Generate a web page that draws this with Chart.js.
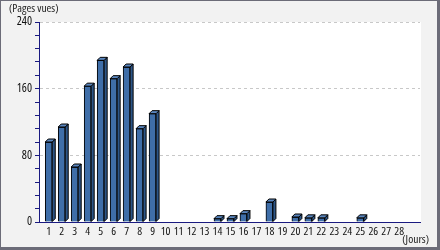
<!DOCTYPE html>
<html lang="fr">
<head>
  <meta charset="UTF-8">
  <title>Pages vues</title>
  <script src="https://cdn.jsdelivr.net/npm/chart.js"></script>
  <style>
    body {
      margin: 0;
      background: #f2f2f2;
    }

    .frame {
      width: 440px;
      height: 250px;
      box-sizing: border-box;
      border-style: solid;
      border-color: #6c6c78;
      border-width: 1px 3px 3px 1px;
      background: #f2f2f2;
    }

    canvas {
      display: block;
    }
  </style>
</head>
<body>

<div class="frame">
  <canvas id="viewsChart" width="436" height="246"></canvas>
</div>

<script>
  const days = [1, 2, 3, 4, 5, 6, 7, 8, 9, 10, 11, 12, 13, 14,
                15, 16, 17, 18, 19, 20, 21, 22, 23, 24, 25, 26, 27, 28];
  const views = [96, 114, 66, 163, 194, 172, 186, 112, 130, 0, 0, 0, 0, 4,
                 4, 10, 0, 24, 0, 6, 5, 5, 0, 0, 5, 0, 0, 0];
  const yMax = 240;
  const yStep = 16;     // minor tick marks
  const yLabelStep = 80;

  // 'condensed' goes in the weight slot so chart.js writes "condensed 11px 'Open Sans'"
  const FAMILY = "'Open Sans', sans-serif";
  const STRETCH = 'condensed';

  // white plot background + 3d sides/tops on the bars + the two axis captions
  const bars3d = {
    id: 'bars3d',
    beforeDraw(chart) {
      const a = chart.chartArea;
      const ctx = chart.ctx;
      ctx.save();
      ctx.fillStyle = '#fff';
      ctx.fillRect(a.left, a.top, a.right - a.left + 1, a.bottom - a.top);
      ctx.restore();
    },
    afterDatasetsDraw(chart) {
      const ctx = chart.ctx;
      const d = 3;
      ctx.save();
      ctx.lineWidth = 1;
      ctx.strokeStyle = '#000';
      chart.getDatasetMeta(0).data.forEach((bar, i) => {
        if (!views[i]) return;
        const p = bar.getProps(['x', 'y', 'base', 'width'], true);
        const l = p.x - p.width / 2, r = p.x + p.width / 2;
        // side
        ctx.beginPath();
        ctx.moveTo(r, p.y);
        ctx.lineTo(r + d, p.y - d);
        ctx.lineTo(r + d, p.base - d);
        ctx.lineTo(r, p.base);
        ctx.closePath();
        ctx.fillStyle = '#2d5688';
        ctx.fill();
        ctx.stroke();
        // top
        ctx.beginPath();
        ctx.moveTo(l, p.y);
        ctx.lineTo(l + d, p.y - d);
        ctx.lineTo(r + d, p.y - d);
        ctx.lineTo(r, p.y);
        ctx.closePath();
        ctx.fillStyle = '#5a86bf';
        ctx.fill();
        ctx.stroke();
      });
      ctx.restore();
    },
    afterDraw(chart) {
      const ctx = chart.ctx;
      ctx.save();
      ctx.fillStyle = '#222';
      ctx.font = STRETCH + ' 11.5px ' + FAMILY;
      ctx.textBaseline = 'alphabetic';
      ctx.textAlign = 'left';
      ctx.fillText('(Pages vues)', 8, 11);
      ctx.textAlign = 'right';
      ctx.fillText('(Jours)', 428, 242);
      ctx.restore();
    }
  };

  new Chart(document.getElementById('viewsChart'), {
    type: 'bar',
    data: {
      datasets: [{
        data: days.map((d, i) => ({ x: d, y: views[i] })),
        backgroundColor: '#3f6ea8',
        borderColor: '#000',
        borderWidth: 1,
        barThickness: 7
      }]
    },
    options: {
      responsive: false,
      animation: false,
      layout: {
        padding: { top: 21, right: 17, bottom: 0, left: 0 }
      },
      plugins: {
        legend: { display: false },
        tooltip: { enabled: false }
      },
      scales: {
        x: {
          type: 'linear',
          offset: false,
          min: 0.25,
          max: 29.6,
          afterFit: s => { s.height = 25; },
          grid: { display: false, drawTicks: false },
          border: { color: '#1a1a80', width: 1 },
          ticks: {
            stepSize: 1,
            includeBounds: false,
            autoSkip: false,
            maxRotation: 0,
            padding: 3,
            color: '#111',
            font: { family: FAMILY, weight: STRETCH, size: 11.5 },
            callback: v => (Number.isInteger(v) && days.includes(v)) ? v : ''
          }
        },
        y: {
          min: 0,
          max: yMax,
          afterFit: s => { s.width = 38; },
          grid: {
            color: c => (c.tick && c.tick.value > 0 && c.tick.value % yLabelStep === 0) ? '#c8c8c8' : 'transparent',
            tickColor: '#1a1a80',
            tickLength: 4
          },
          border: { color: '#1a1a80', width: 1, dash: [3, 3] },
          ticks: {
            stepSize: yStep,
            autoSkip: false,
            padding: 3,
            color: '#111',
            font: { family: FAMILY, weight: STRETCH, size: 12 },
            callback: v => v % yLabelStep === 0 ? v : ''
          }
        }
      }
    },
    plugins: [bars3d]
  });
</script>

</body>
</html>
